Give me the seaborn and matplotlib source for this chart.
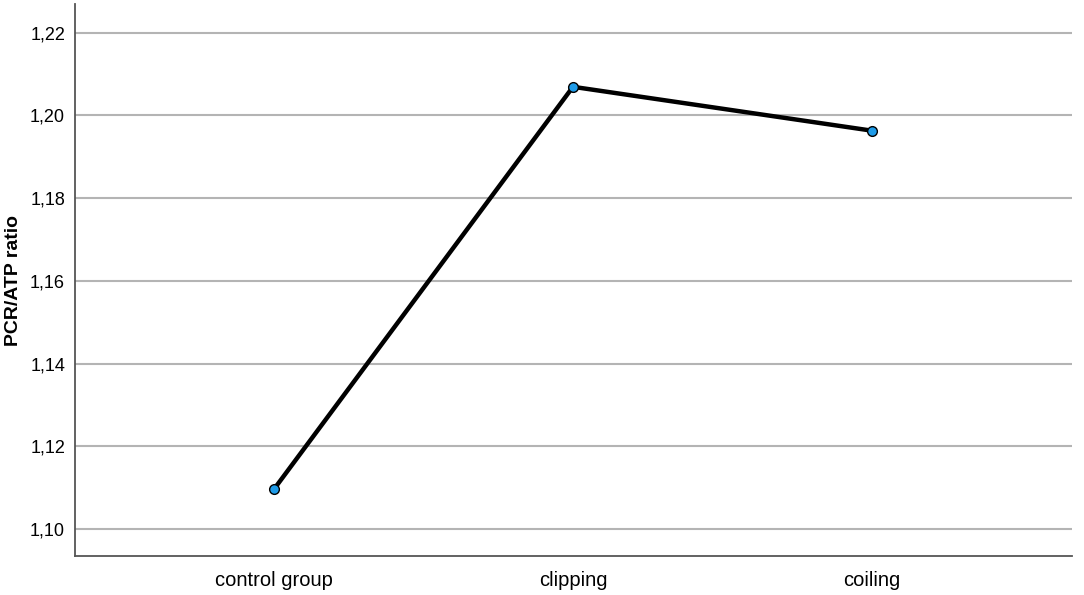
import matplotlib
matplotlib.use("Agg")
import matplotlib.pyplot as plt
import seaborn as sns
import pandas as pd

categories = ["control group", "clipping", "coiling"]
ratio_values = [1.1097, 1.2069, 1.1963]
ytick_values = [1.10, 1.12, 1.14, 1.16, 1.18, 1.20, 1.22]
ytick_labels = ["1,10", "1,12", "1,14", "1,16", "1,18", "1,20", "1,22"]

df = pd.DataFrame({"group": categories, "ratio": ratio_values})

sns.set_style("white")
plt.rcParams["font.family"] = ["Liberation Sans", "DejaVu Sans"]

fig = plt.figure(figsize=(10.84, 5.95), dpi=100)
ax = fig.add_axes([0.069, 0.0655, 0.92, 0.927])

sns.lineplot(data=df, x="group", y="ratio", ax=ax, color="black", linewidth=3.2,
             marker="o", markersize=7, markerfacecolor="#1e9be8",
             markeredgecolor="black", markeredgewidth=1.0, sort=False, zorder=3)

ax.set_xlim(-0.667, 2.67)
ax.set_ylim(1.0935, 1.2268)
ax.set_yticks(ytick_values)
ax.set_yticklabels(ytick_labels)
ax.yaxis.grid(True, color="#b4b4b4", linewidth=1.5)
ax.xaxis.grid(False)
ax.set_axisbelow(True)

for s in ["top", "right"]:
    ax.spines[s].set_visible(False)
for s in ["left", "bottom"]:
    ax.spines[s].set_color("#555555")
    ax.spines[s].set_linewidth(1.3)

ax.tick_params(axis="both", length=0, colors="black")
ax.tick_params(axis="x", labelsize=14.5, pad=11)
ax.tick_params(axis="y", labelsize=13, pad=7)
ax.set_xlabel("")
ax.set_ylabel("PCR/ATP ratio", fontsize=14, fontweight="bold", color="black", labelpad=6)

fig.savefig("out.png", dpi=100)
